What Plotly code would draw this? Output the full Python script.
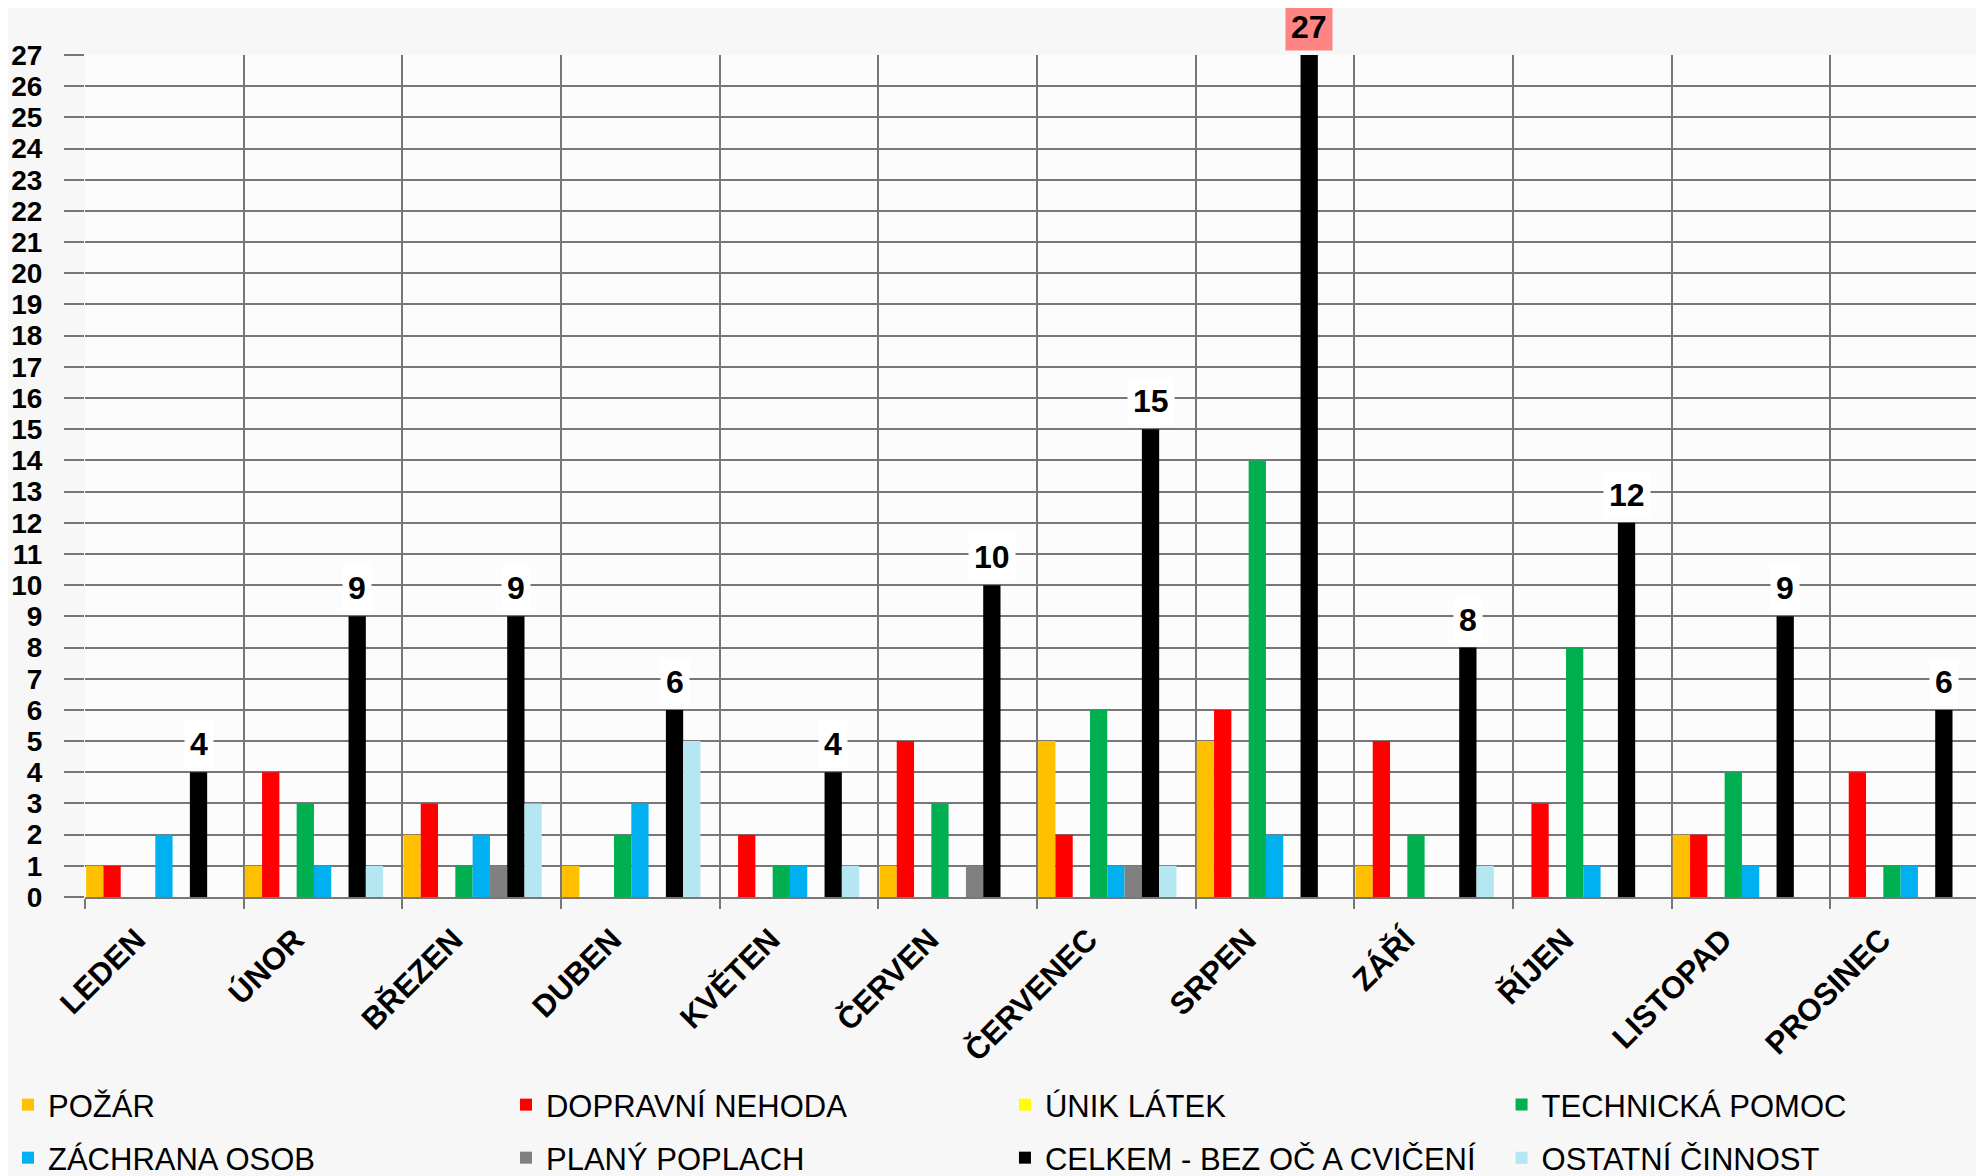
import plotly.graph_objects as go

months = ["LEDEN", "ÚNOR", "BŘEZEN", "DUBEN", "KVĚTEN", "ČERVEN",
          "ČERVENEC", "SRPEN", "ZÁŘÍ", "ŘÍJEN", "LISTOPAD", "PROSINEC"]

pozar      = [1, 1, 2, 1, 0, 1, 5, 5, 1, 0, 2, 0]
dopravni   = [1, 4, 3, 0, 2, 5, 2, 6, 5, 3, 2, 4]
unik       = [0, 0, 0, 0, 0, 0, 0, 0, 0, 0, 0, 0]
technicka  = [0, 3, 1, 2, 1, 3, 6, 14, 2, 8, 4, 1]
zachrana   = [2, 1, 2, 3, 1, 0, 1, 2, 0, 1, 1, 1]
plany      = [0, 0, 1, 0, 0, 1, 1, 0, 0, 0, 0, 0]
celkem     = [4, 9, 9, 6, 4, 10, 15, 27, 8, 12, 9, 6]
ostatni    = [0, 1, 3, 5, 1, 0, 1, 0, 1, 0, 0, 0]

series = [
    ("POŽÁR", pozar, "#FFC000"),
    ("DOPRAVNÍ NEHODA", dopravni, "#FF0000"),
    ("ÚNIK LÁTEK", unik, "#FFFF00"),
    ("TECHNICKÁ POMOC", technicka, "#00B050"),
    ("ZÁCHRANA OSOB", zachrana, "#00B0F0"),
    ("PLANÝ POPLACH", plany, "#808080"),
    ("CELKEM - BEZ OČ A CVIČENÍ", celkem, "#000000"),
    ("OSTATNÍ ČINNOST", ostatni, "#B4E7F1"),
]

W, H = 1984, 1176
ML, MR, MT, MB = 77, 3, 47, 287
FONT = "Liberation Sans, Arial, sans-serif"

bar_w = 0.109
start = -0.5 + 0.007

# legend layout: 4 columns x 2 rows, one legend per item (container fractions)
leg_x = [0.0, 0.2510, 0.5025, 0.7528]
leg_y = [0.0672, 0.0221]

fig = go.Figure()
for k, (name, vals, col) in enumerate(series):
    fig.add_trace(go.Bar(
        x=months, y=vals, name=name, showlegend=True,
        marker=dict(color=col, line=dict(width=0)),
        width=bar_w, offset=start + k * bar_w,
        legend="legend" if k == 0 else f"legend{k + 1}",
    ))

# data labels on CELKEM bars
cat_px = (W - ML - MR) / len(months)
xshift = (start + 6 * bar_w + bar_w / 2) * cat_px
vmax = max(celkem)
for m, v in zip(months, celkem):
    fig.add_annotation(
        x=m, y=v, xref="x", yref="y", text=str(v), showarrow=False,
        xshift=xshift, yshift=4, yanchor="bottom",
        font=dict(family=FONT, size=32, color="#000000", weight="bold"),
        bgcolor="#FF8585" if v == vmax else "#FFFFFF", borderpad=5,
    )

grid = "#777777"
legends = {}
for k in range(len(series)):
    key = "legend" if k == 0 else f"legend{k + 1}"
    legends[key] = dict(
        orientation="h", xref="container", yref="container",
        xanchor="left", yanchor="middle",
        x=leg_x[k % 4], y=leg_y[k // 4],
        font=dict(family=FONT, size=31, color="#000000"),
        bgcolor="rgba(0,0,0,0)", itemclick=False, itemdoubleclick=False,
    )

fig.update_layout(
    width=W, height=H,
    showlegend=True,
    margin=dict(l=ML, r=MR, t=MT, b=MB, autoexpand=False),
    paper_bgcolor="#F7F7F7", plot_bgcolor="#FCFCFC",
    barmode="group",
    font=dict(family=FONT, color="#000000"),
    xaxis=dict(
        type="category", tickson="boundaries",
        showgrid=True, gridcolor=grid, gridwidth=2,
        showline=True, linecolor=grid, linewidth=2,
        ticks="outside", ticklen=10, tickcolor=grid, tickwidth=2,
        tickangle=-45, ticklabelshift=-28, ticklabelstandoff=10,
        tickfont=dict(family=FONT, size=31, color="#000000", weight="bold"),
    ),
    yaxis=dict(
        range=[0, 27], dtick=1, tick0=0,
        showgrid=True, gridcolor=grid, gridwidth=2,
        zeroline=False,
        showline=False,
        ticks="outside", ticklen=20, tickcolor=grid, tickwidth=2,
        ticklabelstandoff=16,
        tickfont=dict(family=FONT, size=28, color="#000000", weight="bold"),
    ),
    **legends,
)

fig.write_html("out.html")
